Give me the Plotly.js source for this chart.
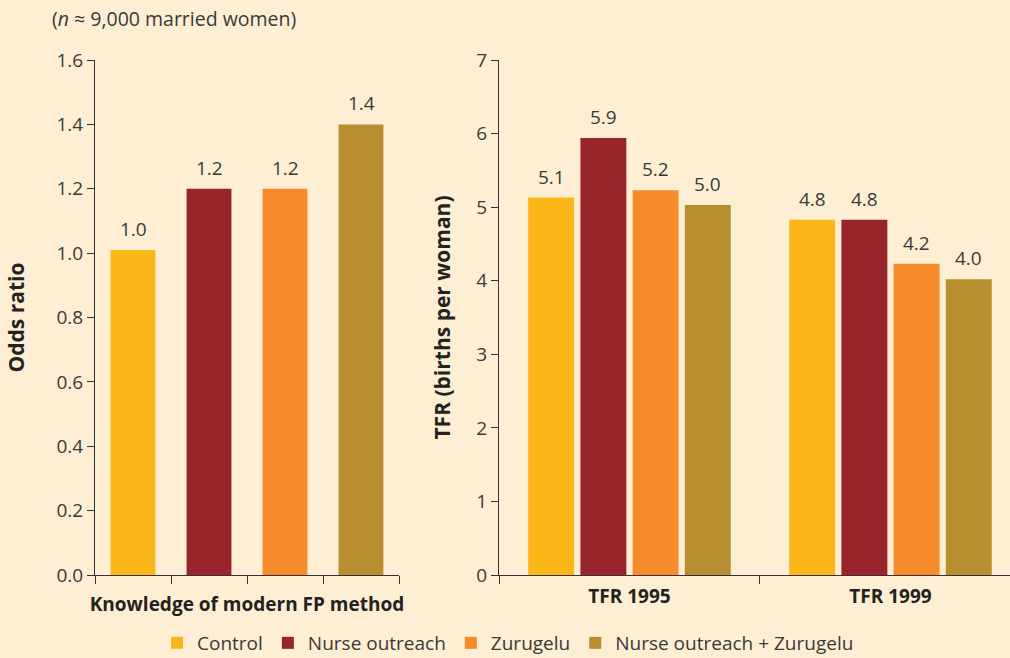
<!DOCTYPE html>
<html>
<head>
<meta charset="utf-8">
<script src="https://cdn.plot.ly/plotly-3.0.1.min.js"></script>
<style>
  html, body { margin: 0; padding: 0; background: #FEEED4; }
  #chart { width: 1010px; height: 658px; }
</style>
</head>
<body>
<div id="chart"></div>
<script>
// ---- data ----
const leftCategory = 'Knowledge of modern FP method';
const rightCategories = ['TFR 1995', 'TFR 1999'];
const groups = ['Control', 'Nurse outreach', 'Zurugelu', 'Nurse outreach + Zurugelu'];
const oddsRatio = [1.01, 1.2, 1.2, 1.4];
const tfrControl = [5.13, 4.83];
const tfrNurse = [5.94, 4.83];
const tfrZurugelu = [5.23, 4.23];
const tfrCombined = [5.03, 4.02];
const subtitle = '(<i>n</i> ≈ 9,000 married women)';
const leftYTitle = 'Odds ratio';
const rightYTitle = 'TFR (births per woman)';

// ---- style ----
const colors = ['#FBB718', '#98242C', '#F68B2B', '#B78E30'];
const bg = '#FEEED4';
const textColor = '#3a3a3a';
const axisColor = '#333333';
const baseFont = '"Open Sans", Lato, sans-serif';
const boldFont = '"Open Sans", "Liberation Sans", Arial, sans-serif';

const tfrSeries = [tfrControl, tfrNurse, tfrZurugelu, tfrCombined];
const leftWidth = 0.59;
const rightWidth = 0.176;
const rightStep = 0.2;
const rightStart = -(3 * rightStep + rightWidth) / 2;

const traces = [];
const annotations = [];

groups.forEach((g, i) => {
  traces.push({
    type: 'bar', name: g, x: [i + 0.5], y: [oddsRatio[i]],
    width: leftWidth, marker: { color: colors[i] },
    xaxis: 'x', yaxis: 'y', hoverinfo: 'skip', legendrank: i
  });
  annotations.push({
    xref: 'x', yref: 'y', x: i + 0.5, y: oddsRatio[i],
    text: oddsRatio[i].toFixed(1), showarrow: false,
    yanchor: 'bottom', yshift: 6,
    font: { family: baseFont, size: 19, color: textColor }
  });
});

groups.forEach((g, i) => {
  const off = rightStart + i * rightStep;
  traces.push({
    type: 'bar', name: g, x: rightCategories, y: tfrSeries[i],
    width: rightWidth, offset: off, marker: { color: colors[i] },
    xaxis: 'x2', yaxis: 'y2', showlegend: false, hoverinfo: 'skip'
  });
  tfrSeries[i].forEach((v, k) => {
    annotations.push({
      xref: 'x2', yref: 'y2', x: k + off + rightWidth / 2, y: v,
      text: v.toFixed(1), showarrow: false,
      yanchor: 'bottom', yshift: 6,
      font: { family: baseFont, size: 19, color: textColor }
    });
  });
});

annotations.push({
  xref: 'paper', yref: 'paper', x: 50 / 1010, y: 1 + 42 / 515,
  xanchor: 'left', yanchor: 'middle', text: subtitle, showarrow: false,
  font: { family: baseFont, size: 19.5, color: textColor }
});

const W = 1010;
const layout = {
  width: 1010, height: 658,
  paper_bgcolor: bg, plot_bgcolor: bg,
  margin: { l: 0, r: 0, t: 60, b: 83, autoexpand: false },
  barmode: 'overlay',
  showlegend: true,
  legend: {
    orientation: 'h', x: 0.503, xanchor: 'center', y: -68 / 515, yanchor: 'middle',
    font: { family: baseFont, size: 19, color: textColor },
    bgcolor: 'rgba(0,0,0,0)', itemwidth: 30
  },
  font: { family: baseFont, color: textColor },
  xaxis: {
    domain: [95 / W, 399 / W], range: [0, 4], type: 'linear',
    tickvals: [0, 1, 2, 3, 4], ticktext: ['', '', leftCategory, '', ''],
    ticks: 'outside', ticklen: 8, tickcolor: axisColor, ticklabelstandoff: 4,
    showline: true, linecolor: axisColor, showgrid: false, zeroline: false,
    tickfont: { family: boldFont, size: 19, color: '#222', weight: 'bold' },
    fixedrange: true
  },
  yaxis: {
    domain: [0, 1], range: [0, 1.6], dtick: 0.2, tickformat: '.1f',
    ticks: 'outside', ticklen: 7, tickcolor: axisColor,
    showline: true, linecolor: axisColor, showgrid: false, zeroline: false,
    tickfont: { family: baseFont, size: 19, color: textColor },
    title: { text: leftYTitle, font: { family: boldFont, size: 21, color: '#222', weight: 'bold' }, standoff: 26 },
    anchor: 'x'
  },
  xaxis2: {
    domain: [499 / W, 1], range: [-0.5, 1.458], type: 'category',
    tickson: 'boundaries',
    ticks: 'outside', ticklen: 8, tickcolor: axisColor, ticklabelstandoff: 4,
    showline: true, linecolor: axisColor, showgrid: false, zeroline: false,
    tickfont: { family: boldFont, size: 19, color: '#222', weight: 'bold' },
    anchor: 'y2'
  },
  yaxis2: {
    domain: [0, 1], range: [0, 7], dtick: 1,
    ticks: 'outside', ticklen: 7, tickcolor: axisColor,
    showline: true, linecolor: axisColor, showgrid: false, zeroline: false,
    tickfont: { family: baseFont, size: 19, color: textColor },
    title: { text: rightYTitle, font: { family: boldFont, size: 21, color: '#222', weight: 'bold' }, standoff: 19 },
    anchor: 'x2'
  },
  annotations: annotations
};

Plotly.newPlot('chart', traces, layout, { staticPlot: true, displayModeBar: false });
</script>
</body>
</html>
